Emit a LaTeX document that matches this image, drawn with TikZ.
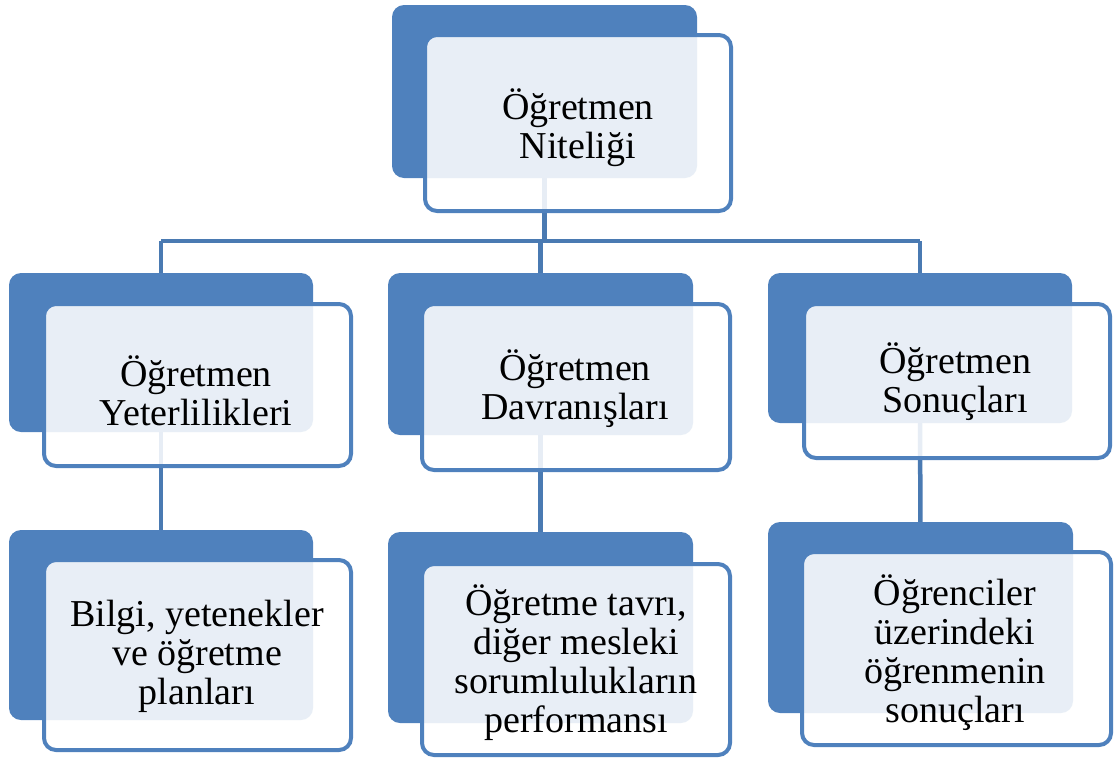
\documentclass[tikz,border=0pt]{standalone}
\usepackage{fontspec}
\setmainfont{Liberation Serif}
\usetikzlibrary{backgrounds}
\definecolor{obl}{HTML}{4F81BD}
\definecolor{cbl}{HTML}{4A7AB2}
\begin{document}
\begin{tikzpicture}[x=1pt,y=-1pt,
  backbox/.style={rectangle, fill=obl, draw=none, rounded corners=12pt, inner sep=0pt},
  frontbox/.style={rectangle, draw=obl, line width=4pt, fill=white, fill opacity=0.87,
     rounded corners=12pt, inner sep=0pt},
  txt/.style={align=center, inner sep=0pt, font=\fontsize{38}{39}\selectfont},
  conn/.style={draw=cbl, line width=4.5pt}]
\useasboundingbox (0,0) rectangle (1115,763);
% back boxes
\node[backbox, minimum width=305pt, minimum height=173pt] (Tb) at (544.5,91.5) {};
\node[backbox, minimum width=304pt, minimum height=159pt] (L1b) at (161,352.5) {};
\node[backbox, minimum width=305pt, minimum height=162pt] (C1b) at (540.5,354) {};
\node[backbox, minimum width=304pt, minimum height=150pt] (R1b) at (920,348) {};
\node[backbox, minimum width=304pt, minimum height=190pt] (L2b) at (161,625) {};
\node[backbox, minimum width=305pt, minimum height=191pt] (C2b) at (540.5,627.5) {};
\node[backbox, minimum width=305pt, minimum height=191pt] (R2b) at (920.5,617.5) {};
% front boxes
\node[frontbox, minimum width=306pt, minimum height=176pt] (Tf) at (578,123) {};
\node[frontbox, minimum width=307pt, minimum height=162pt] (L1f) at (197.5,385) {};
\node[frontbox, minimum width=308pt, minimum height=166pt] (C1f) at (576,387) {};
\node[frontbox, minimum width=306pt, minimum height=154pt] (R1f) at (957,381) {};
\node[frontbox, minimum width=307pt, minimum height=190pt] (L2f) at (197.5,655) {};
\node[frontbox, minimum width=308pt, minimum height=191pt] (C2f) at (576,659.5) {};
\node[frontbox, minimum width=309pt, minimum height=193pt] (R2f) at (956.5,648.5) {};
% texts
\node[txt] (Tt) at (578,128) {Öğretmen\\Niteliği};
\node[txt] (L1t) at (196,391) {Öğretmen\\Yeterlilikleri};
\node[txt] (C1t) at (575,389) {Öğretmen\\Davranışları};
\node[txt] (R1t) at (955,382) {Öğretmen\\Sonuçları};
\node[txt] (L2t) at (197,656) {Bilgi, yetenekler\\ve öğretme\\planları};
\node[txt] (C2t) at (576,663) {Öğretme tavrı,\\diğer mesleki\\sorumlulukların\\performansı};
\node[txt] (R2t) at (955,652.5) {Öğrenciler\\üzerindeki\\öğrenmenin\\sonuçları};
% connectors (behind the boxes)
\coordinate (hub) at (545,241);
\begin{scope}[on background layer]
\draw[conn] (Tb.center) -- (Tb.center |- hub);
\draw[conn] (L1b.center |- hub) -- (R1b.center |- hub);
\draw[conn] (L1b.center |- hub) -- (L1b.center);
\draw[conn] (C1b.center |- hub) -- (C1b.center);
\draw[conn] (R1b.center |- hub) -- (R1b.center);
\draw[conn] (L1b.center) -- (L2b.center);
\draw[conn] (C1b.center) -- (C2b.center);
\draw[conn] (R1b.center) -- (R2b.center);
\end{scope}
\end{tikzpicture}
\end{document}
